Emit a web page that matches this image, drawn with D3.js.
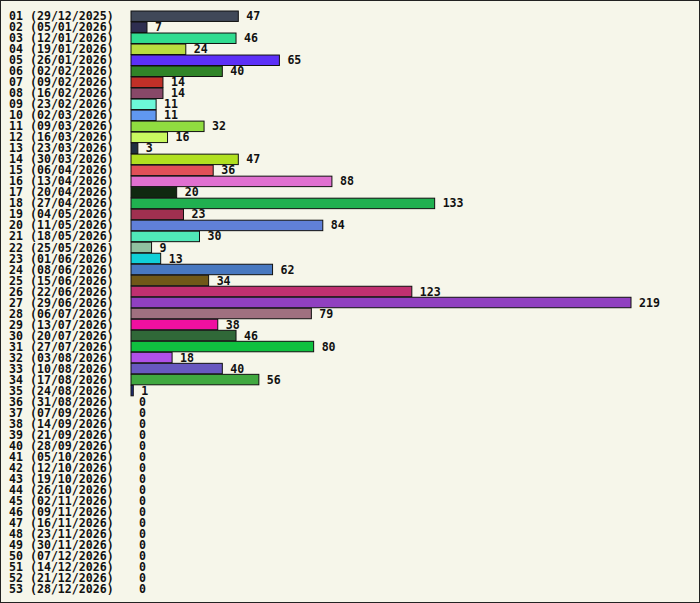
<!DOCTYPE html><html><head><script src="https://cdn.jsdelivr.net/npm/d3@7"></script>
<style>body{margin:0;background:#fff}</style></head><body><svg id="c" width="700" height="603"></svg>
<script>
const weeks=["01 (29/12/2025)","02 (05/01/2026)","03 (12/01/2026)","04 (19/01/2026)","05 (26/01/2026)","06 (02/02/2026)","07 (09/02/2026)","08 (16/02/2026)","09 (23/02/2026)","10 (02/03/2026)","11 (09/03/2026)","12 (16/03/2026)","13 (23/03/2026)","14 (30/03/2026)","15 (06/04/2026)","16 (13/04/2026)","17 (20/04/2026)","18 (27/04/2026)","19 (04/05/2026)","20 (11/05/2026)","21 (18/05/2026)","22 (25/05/2026)","23 (01/06/2026)","24 (08/06/2026)","25 (15/06/2026)","26 (22/06/2026)","27 (29/06/2026)","28 (06/07/2026)","29 (13/07/2026)","30 (20/07/2026)","31 (27/07/2026)","32 (03/08/2026)","33 (10/08/2026)","34 (17/08/2026)","35 (24/08/2026)","36 (31/08/2026)","37 (07/09/2026)","38 (14/09/2026)","39 (21/09/2026)","40 (28/09/2026)","41 (05/10/2026)","42 (12/10/2026)","43 (19/10/2026)","44 (26/10/2026)","45 (02/11/2026)","46 (09/11/2026)","47 (16/11/2026)","48 (23/11/2026)","49 (30/11/2026)","50 (07/12/2026)","51 (14/12/2026)","52 (21/12/2026)","53 (28/12/2026)"];
const values=[47,7,46,24,65,40,14,14,11,11,32,16,3,47,36,88,20,133,23,84,30,9,13,62,34,123,219,79,38,46,80,18,40,56,1,0,0,0,0,0,0,0,0,0,0,0,0,0,0,0,0,0,0];
const colors=["#404858","#2e2e50","#30dc90","#b8dc40","#5c30f8","#308428","#c03028","#884868","#6cf8d8","#6098f0","#90dc40","#c8f860","#203040","#b0e020","#e05058","#e070d0","#102810","#20b050","#a03050","#6080d8","#50e8b8","#90c0a0","#10d0d8","#4878c0","#705818","#c03070","#9040c0","#a07080","#f010a0","#306838","#10c040","#b050e8","#6858c0","#40a840","#203080"];
const svg=d3.select("#c");
svg.append("rect").attr("x",0.5).attr("y",0.5).attr("width",699).attr("height",602).attr("fill","#f6f6ea").attr("stroke","#222");
const x=d3.scaleLinear().domain([0,219]).range([131,631]);
const y=d3.scaleBand().domain(weeks).range([11,594]).paddingInner(0.05);
const g=svg.selectAll("g.r").data(weeks).join("g");
g.append("text").attr("x",9).attr("y",d=>y(d)+y.bandwidth()/2).attr("dy","0.35em").text(d=>d)
 .attr("font-family","DejaVu Sans Mono").attr("font-weight","bold").attr("font-size","11.6px").attr("fill","#111");
g.append("rect").attr("x",x(0)).attr("y",d=>y(d)).attr("height",y.bandwidth())
 .attr("width",(d,i)=>x(values[i])-x(0)).attr("fill",(d,i)=>colors[i]||"#333").attr("stroke","#111").attr("stroke-width",1);
g.append("text").attr("x",(d,i)=>x(values[i])+8).attr("y",d=>y(d)+y.bandwidth()/2).attr("dy","0.35em").text((d,i)=>values[i])
 .attr("font-family","DejaVu Sans Mono").attr("font-weight","bold").attr("font-size","11.6px").attr("fill","#111");
</script></body></html>
